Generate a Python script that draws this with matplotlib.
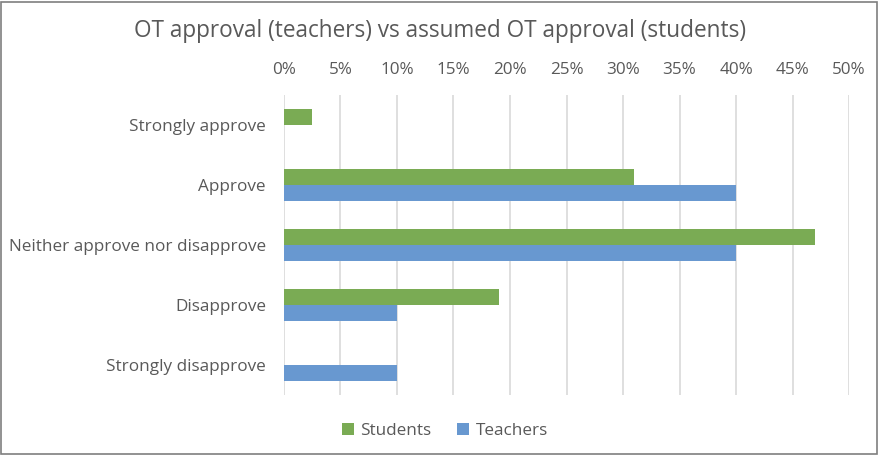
import matplotlib
matplotlib.use("Agg")
import matplotlib.pyplot as plt
from matplotlib.patches import Rectangle
from matplotlib.ticker import PercentFormatter, MultipleLocator
import numpy as np

categories = ["Strongly approve", "Approve", "Neither approve nor disapprove",
              "Disapprove", "Strongly disapprove"]
students = [2.5, 31, 47, 19, 0]
teachers = [0, 40, 40, 10, 10]
title = "OT approval (teachers) vs assumed OT approval (students)"

plt.rcParams['font.family'] = ['Open Sans', 'DejaVu Sans']
TXT = '#595959'
GREEN = '#7aab54'
BLUE = '#6898d0'

fig = plt.figure(figsize=(8.79, 4.55), dpi=100)
ax = fig.add_axes([284/879, 1-395/455, (849-284)/879, 300/455])

y = np.arange(len(categories))
h = 0.267
ax.barh(y - h/2, students, height=h, color=GREEN, label='Students', zorder=3)
ax.barh(y + h/2, teachers, height=h, color=BLUE, label='Teachers', zorder=3)

ax.set_xlim(0, 50)
ax.set_ylim(len(categories) - 0.5, -0.5)
ax.set_yticks(y)
ax.set_yticklabels(categories)
ax.xaxis.set_major_locator(MultipleLocator(5))
ax.xaxis.set_major_formatter(PercentFormatter(decimals=0))
ax.xaxis.tick_top()
ax.tick_params(axis='both', length=0, labelsize=12.3, colors=TXT)
ax.tick_params(axis='y', pad=13)
ax.tick_params(axis='x', pad=12)
for s in ax.spines.values():
    s.set_visible(False)
ax.grid(axis='x', color='#d9d9d9', linewidth=1.2, zorder=0)

fig.text(440/879, 1-31/455, title, ha='center', va='center', fontsize=16.3, color=TXT)
ax.legend(loc='center', bbox_to_anchor=(445/879, 1-431/455), bbox_transform=fig.transFigure,
          ncol=2, frameon=False, fontsize=12.3, labelcolor=TXT, handlelength=0.7,
          handleheight=0.7, columnspacing=1.5, handletextpad=0.4)

fig.patches.append(Rectangle((1/879, 1/455), 876/879, 452/455, transform=fig.transFigure,
                             fill=False, edgecolor='#7f7f7f', linewidth=1.2))
fig.savefig('out.png', dpi=100)
